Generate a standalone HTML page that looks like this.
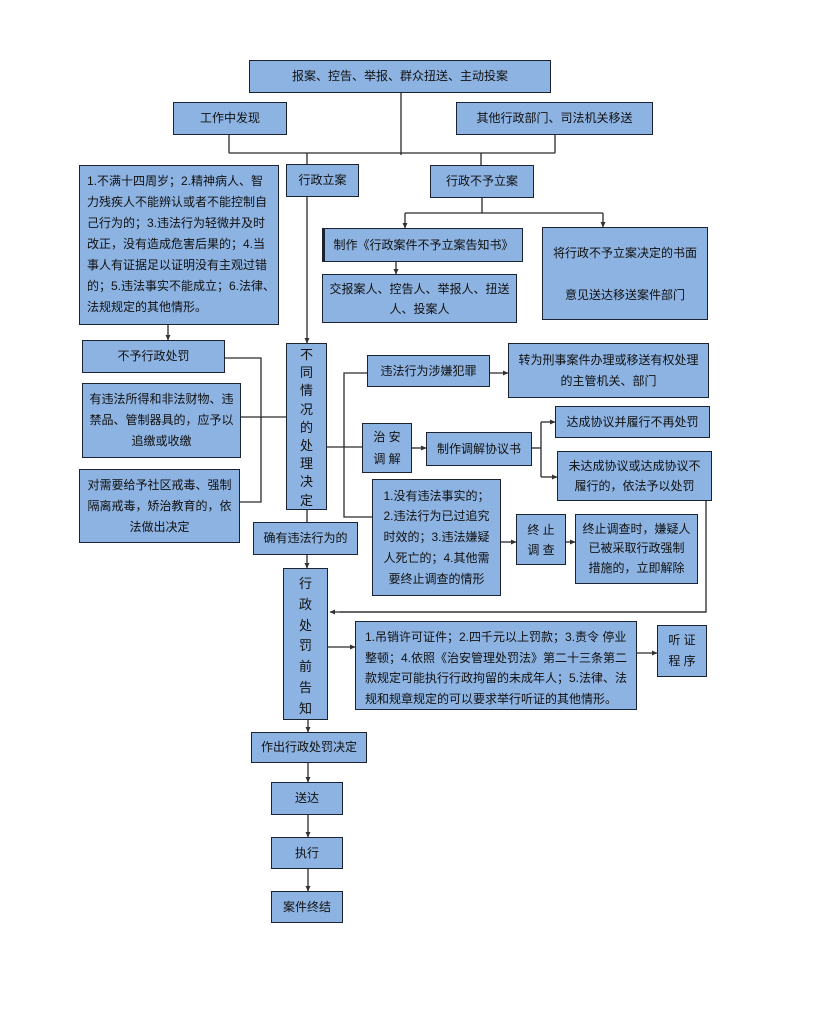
<!DOCTYPE html>
<html><head><meta charset="utf-8">
<style>
html,body{margin:0;padding:0;background:#fff;}
body{width:814px;height:1015px;position:relative;overflow:hidden;font-family:"Liberation Sans","Noto Sans CJK SC",sans-serif;color:#111;}
.b{position:absolute;box-sizing:border-box;background:#8db3e2;border:1.6px solid #1b2231;font-size:12px;display:flex;align-items:center;justify-content:center;text-align:center;line-height:21px;white-space:nowrap;}
.blk{display:block;}
svg{position:absolute;left:0;top:0;}
</style></head><body>
<svg width="814" height="1015" viewBox="0 0 814 1015">
<defs>
<marker id="a" markerWidth="6" markerHeight="6" refX="5" refY="3" orient="auto" markerUnits="userSpaceOnUse">
<path d="M0,0.5 L5.5,3 L0,5.5 Z" fill="#333"/>
</marker>
</defs>
<g stroke="#2a2a2a" stroke-width="1.3" fill="none">
<line x1="401" y1="93" x2="401" y2="155"/>
<line x1="229" y1="135" x2="229" y2="153"/>
<line x1="555" y1="135" x2="555" y2="153"/>
<line x1="229" y1="153" x2="555" y2="153"/>
<line x1="307" y1="153" x2="307" y2="164"/>
<line x1="481" y1="153" x2="481" y2="165"/>
<line x1="307" y1="197" x2="307" y2="343" marker-end="url(#a)"/>
<line x1="482" y1="198" x2="482" y2="213"/>
<line x1="405" y1="213" x2="603" y2="213"/>
<line x1="405" y1="213" x2="405" y2="228" marker-end="url(#a)"/>
<line x1="603" y1="213" x2="603" y2="227" marker-end="url(#a)"/>
<line x1="396" y1="262" x2="396" y2="274" marker-end="url(#a)"/>
<line x1="168" y1="325" x2="168" y2="340" marker-end="url(#a)"/>
<polyline points="225,358 261,358 261,502 240,502"/>
<line x1="241" y1="417" x2="286" y2="417"/>
<line x1="307" y1="510" x2="307" y2="522"/>
<line x1="327" y1="447" x2="362" y2="447"/>
<polyline points="367,373 344,373 344,517 372,517"/>
<line x1="490" y1="373" x2="508" y2="373" marker-end="url(#a)"/>
<line x1="412" y1="448" x2="426" y2="448" marker-end="url(#a)"/>
<line x1="532" y1="448" x2="541" y2="448"/>
<line x1="541" y1="422" x2="541" y2="477"/>
<line x1="541" y1="422" x2="555" y2="422" marker-end="url(#a)"/>
<line x1="541" y1="477" x2="557" y2="477" marker-end="url(#a)"/>
<line x1="501" y1="542" x2="516" y2="542" marker-end="url(#a)"/>
<line x1="566" y1="542" x2="575" y2="542" marker-end="url(#a)"/>
<polyline points="706,501 706,612 340,612"/>
<line x1="706" y1="612" x2="330" y2="612" marker-end="url(#a)"/>
<line x1="307" y1="555" x2="307" y2="568" marker-end="url(#a)"/>
<line x1="328" y1="647" x2="355" y2="647" marker-end="url(#a)"/>
<line x1="637" y1="653" x2="657" y2="653" marker-end="url(#a)"/>
<line x1="308" y1="720" x2="308" y2="732" marker-end="url(#a)"/>
<line x1="308" y1="763" x2="308" y2="782" marker-end="url(#a)"/>
<line x1="308" y1="815" x2="308" y2="837" marker-end="url(#a)"/>
<line x1="308" y1="869" x2="308" y2="891" marker-end="url(#a)"/>
</g>
</svg>

<div class="b" style="left:249px;top:60px;width:302px;height:33px;">报案、控告、举报、群众扭送、主动投案</div>
<div class="b" style="left:173px;top:102px;width:114px;height:33px;">工作中发现</div>
<div class="b" style="left:456px;top:102px;width:197px;height:33px;">其他行政部门、司法机关移送</div>
<div class="b" style="left:286px;top:164px;width:73px;height:33px;">行政立案</div>
<div class="b" style="left:430px;top:165px;width:104px;height:33px;">行政不予立案</div>

<div class="b blk" style="left:79px;top:165px;width:200px;height:160px;text-align:left;padding:5px 0 0 7px;">1.不满十四周岁；2.精神病人、智<br>力残疾人不能辨认或者不能控制自<br>己行为的；3.违法行为轻微并及时<br>改正，没有造成危害后果的；4.当<br>事人有证据足以证明没有主观过错<br>的；5.违法事实不能成立；6.法律、<br>法规规定的其他情形。</div>

<div class="b" style="left:322px;top:228px;width:201px;height:34px;border-left-width:3px;">制作《行政案件不予立案告知书》</div>
<div class="b" style="left:322px;top:274px;width:195px;height:49px;line-height:20px;">交报案人、控告人、举报人、扭送<br>人、投案人</div>
<div class="b" style="left:542px;top:227px;width:166px;height:93px;line-height:42px;">将行政不予立案决定的书面<br>意见送达移送案件部门</div>

<div class="b" style="left:82px;top:340px;width:143px;height:33px;">不予行政处罚</div>
<div class="b" style="left:82px;top:383px;width:159px;height:75px;">有违法所得和非法财物、违<br>禁品、管制器具的，应予以<br>追缴或收缴</div>
<div class="b" style="left:79px;top:469px;width:161px;height:74px;">对需要给予社区戒毒、强制<br>隔离戒毒，矫治教育的，依<br>法做出决定</div>

<div class="b blk" style="left:286px;top:343px;width:41px;height:167px;font-size:13px;line-height:18.2px;padding-top:2px;">不<br>同<br>情<br>况<br>的<br>处<br>理<br>决<br>定</div>
<div class="b" style="left:253px;top:522px;width:105px;height:33px;">确有违法行为的</div>

<div class="b" style="left:367px;top:355px;width:123px;height:32px;">违法行为涉嫌犯罪</div>
<div class="b" style="left:508px;top:343px;width:201px;height:55px;">转为刑事案件办理或移送有权处理<br>的主管机关、部门</div>
<div class="b" style="left:362px;top:423px;width:50px;height:50px;line-height:22px;">治 安<br>调 解</div>
<div class="b" style="left:426px;top:432px;width:106px;height:34px;">制作调解协议书</div>
<div class="b" style="left:555px;top:406px;width:155px;height:32px;">达成协议并履行不再处罚</div>
<div class="b" style="left:557px;top:451px;width:155px;height:50px;line-height:20px;">未达成协议或达成协议不<br>履行的，依法予以处罚</div>

<div class="b" style="left:372px;top:479px;width:129px;height:117px;line-height:20.8px;">1.没有违法事实的；<br>2.违法行为已过追究<br>时效的；3.违法嫌疑<br>人死亡的；4.其他需<br>要终止调查的情形</div>
<div class="b" style="left:516px;top:514px;width:50px;height:51px;line-height:20px;">终 止<br>调 查</div>
<div class="b" style="left:575px;top:514px;width:123px;height:70px;line-height:19.5px;">终止调查时，嫌疑人<br>已被采取行政强制<br>措施的，立即解除</div>

<div class="b blk" style="left:283px;top:568px;width:45px;height:152px;font-size:13px;line-height:20.8px;padding-top:5px;">行<br>政<br>处<br>罚<br>前<br>告<br>知</div>
<div class="b blk" style="left:355px;top:621px;width:282px;height:89px;text-align:left;line-height:20.7px;padding:5px 0 0 9px;">1.吊销许可证件；2.四千元以上罚款；3.责令 停业<br>整顿；4.依照《治安管理处罚法》第二十三条第二<br>款规定可能执行行政拘留的未成年人；5.法律、法<br>规和规章规定的可以要求举行听证的其他情形。</div>
<div class="b" style="left:657px;top:625px;width:50px;height:52px;line-height:21px;">听 证<br>程 序</div>

<div class="b" style="left:251px;top:732px;width:116px;height:31px;">作出行政处罚决定</div>
<div class="b" style="left:271px;top:782px;width:72px;height:33px;">送达</div>
<div class="b" style="left:271px;top:837px;width:72px;height:32px;">执行</div>
<div class="b" style="left:271px;top:891px;width:72px;height:32px;">案件终结</div>
</body></html>
